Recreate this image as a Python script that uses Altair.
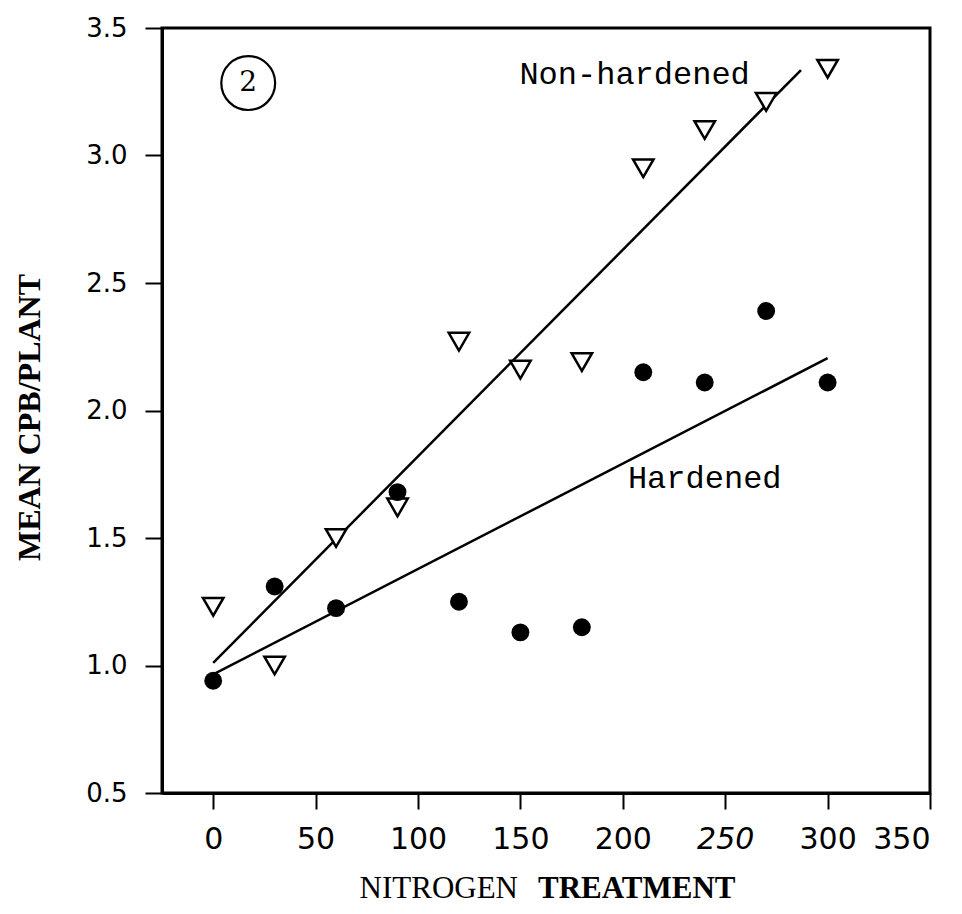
import altair as alt
import pandas as pd

# ---- data ----
nitrogen = [0, 30, 60, 90, 120, 150, 180, 210, 240, 270, 300]
non_hardened = [1.23, 1.00, 1.50, 1.62, 2.27, 2.16, 2.19, 2.95, 3.10, 3.21, 3.34]
hardened = [0.94, 1.31, 1.225, 1.68, 1.25, 1.13, 1.15, 2.15, 2.11, 2.39, 2.11]

# fitted lines (end points)
nh_fit_x = [0, 287]
nh_fit_y = [1.01, 3.335]
h_fit_x = [0, 300]
h_fit_y = [0.965, 2.205]

x_ticks = [0, 50, 100, 150, 200, 250, 300, 350]
y_ticks = [0.5, 1.0, 1.5, 2.0, 2.5, 3.0, 3.5]

labels = ["Non-hardened", "Hardened"]
label_x = [149.5, 202.5]
label_y = [3.32, 1.735]

panel_label = ["2"]
panel_x = [17.1]
panel_y = [3.284]

pts_nh = pd.DataFrame({"N": nitrogen, "y": non_hardened})
pts_h = pd.DataFrame({"N": nitrogen, "y": hardened})
fit_nh = pd.DataFrame({"N": nh_fit_x, "y": nh_fit_y})
fit_h = pd.DataFrame({"N": h_fit_x, "y": h_fit_y})
lab_df = pd.DataFrame({"N": label_x, "y": label_y, "t": labels})
panel_df = pd.DataFrame({"N": panel_x, "y": panel_y, "t": panel_label})

xscale = alt.Scale(domain=[-25, 350], nice=False, zero=False)
yscale = alt.Scale(domain=[0.5, 3.5], nice=False, zero=False)

xaxis = alt.Axis(
    values=x_ticks, title=None, grid=False,
    domainColor="black", domainWidth=3,
    tickColor="black", tickSize=16, tickWidth=2,
    labelFont="DejaVu Sans", labelFontSize=30, labelColor="black",
    labelPadding=15,
    labelFontStyle=alt.condition("datum.value == 250", alt.value("italic"), alt.value("normal")),
)
yaxis = alt.Axis(
    values=y_ticks, format=".1f", grid=False,
    domainColor="black", domainWidth=3,
    tickColor="black", tickSize=17, tickWidth=2,
    labelFont="DejaVu Sans", labelFontSize=26, labelColor="black",
    labelPadding=18,
    title="MEAN CPB/PLANT", titleFont="Liberation Serif", titleFontWeight="bold",
    titleFontSize=32, titleColor="black", titleAngle=270,
    titleAlign="center", titleBaseline="middle", titleX=-133, titleY=389,
)

base_x = alt.X("N:Q", scale=xscale, axis=xaxis)
base_y = alt.Y("y:Q", scale=yscale, axis=yaxis)

line_nh = alt.Chart(fit_nh).mark_line(color="black", strokeWidth=2.5).encode(x=base_x, y=base_y)
line_h = alt.Chart(fit_h).mark_line(color="black", strokeWidth=2.5).encode(
    x=alt.X("N:Q", scale=xscale), y=alt.Y("y:Q", scale=yscale))

tri = alt.Chart(pts_nh).mark_point(
    shape="triangle-down", filled=True, fill="white", stroke="black",
    strokeWidth=2.5, size=420, opacity=1,
).encode(x=alt.X("N:Q", scale=xscale), y=alt.Y("y:Q", scale=yscale))

dots = alt.Chart(pts_h).mark_circle(color="black", size=320, opacity=1).encode(
    x=alt.X("N:Q", scale=xscale), y=alt.Y("y:Q", scale=yscale))

txt = alt.Chart(lab_df).mark_text(
    align="left", baseline="middle", font="Liberation Mono", fontSize=32, color="black"
).encode(x=alt.X("N:Q", scale=xscale), y=alt.Y("y:Q", scale=yscale), text="t:N")

ring = alt.Chart(panel_df).mark_point(
    shape="circle", filled=False, stroke="black", strokeWidth=2.2, size=2900, opacity=1
).encode(x=alt.X("N:Q", scale=xscale), y=alt.Y("y:Q", scale=yscale))

ring_txt = alt.Chart(panel_df).mark_text(
    align="center", baseline="middle", font="DejaVu Serif", fontSize=28, color="black"
).encode(x=alt.X("N:Q", scale=xscale), y=alt.Y("y:Q", scale=yscale), text="t:N")

xt1 = alt.Chart(pd.DataFrame({"t": ["NITROGEN"]})).mark_text(
    align="right", baseline="alphabetic", font="Liberation Serif", fontSize=31, color="black"
).encode(x=alt.value(356), y=alt.value(870), text="t:N")
xt2 = alt.Chart(pd.DataFrame({"t": ["TREATMENT"]})).mark_text(
    align="left", baseline="alphabetic", font="Liberation Serif", fontSize=31,
    fontWeight="bold", color="black"
).encode(x=alt.value(376), y=alt.value(870), text="t:N")

chart = alt.layer(line_nh, line_h, tri, dots, txt, ring, ring_txt, xt1, xt2).properties(
    width=768, height=765,
    autosize=alt.AutoSizeParams(type="none"),
    padding={"left": 154, "top": 20, "right": 20, "bottom": 112},
    background="white",
).configure_view(stroke="black", strokeWidth=3)

chart.save("out.html", embed_options={"renderer": "svg", "actions": False})
